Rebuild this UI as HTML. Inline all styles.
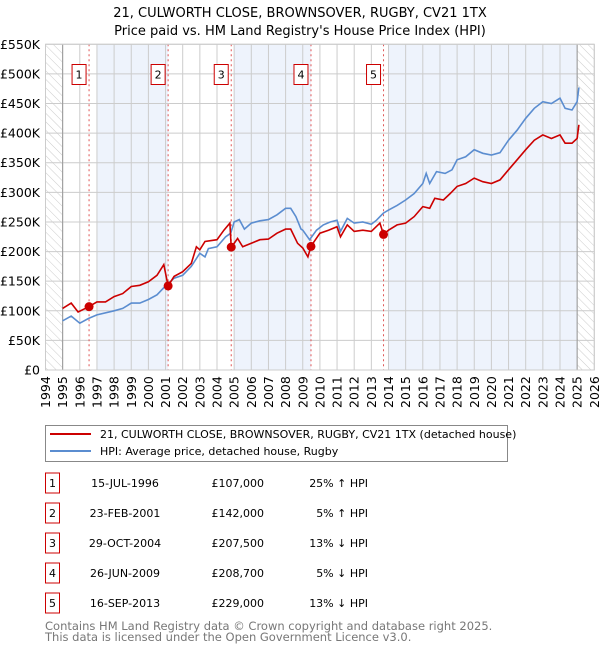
<!DOCTYPE html>
<html><head><meta charset="utf-8"><style>
body{margin:0;background:#fff;font-family:"DejaVu Sans","Liberation Sans",sans-serif;}
svg text{font-family:"DejaVu Sans","Liberation Sans",sans-serif;}
</style></head><body>
<svg id="c" width="600" height="650" viewBox="0 0 600 650" xmlns="http://www.w3.org/2000/svg">
<defs><pattern id="hatch" width="6" height="6" patternUnits="userSpaceOnUse" patternTransform="rotate(-45)"><line x1="0" y1="0" x2="0" y2="6" stroke="#ccc" stroke-width="1"/></pattern></defs>
<text x="300" y="17" text-anchor="middle" font-size="13">21, CULWORTH CLOSE, BROWNSOVER, RUGBY, CV21 1TX</text>
<text x="300" y="35" text-anchor="middle" font-size="13">Price paid vs. HM Land Registry's House Price Index (HPI)</text>
<g id="plot"></g>
<g>
<rect x="45.5" y="425.5" width="462" height="36" fill="#fff" stroke="#888"/>
<line x1="50" y1="434" x2="91" y2="434" stroke="#cc0000" stroke-width="2"/>
<text x="100" y="438" font-size="11">21, CULWORTH CLOSE, BROWNSOVER, RUGBY, CV21 1TX (detached house)</text>
<line x1="50" y1="451" x2="91" y2="451" stroke="#5b8dd0" stroke-width="2"/>
<text x="100" y="455" font-size="11">HPI: Average price, detached house, Rugby</text>
</g>
<g id="table"></g>
<text x="45" y="630" font-size="11.5" fill="#777">Contains HM Land Registry data © Crown copyright and database right 2025.</text>
<text x="45" y="641" font-size="11.5" fill="#777">This data is licensed under the Open Government Licence v3.0.</text>
</svg>
<script>
const hpiYears=[1995,1995.5,1996,1996.5,1997,1998,1998.5,1999,1999.5,2000,2000.5,2001,2001.5,2002,2002.5,2003,2003.3,2003.5,2004,2004.5,2004.8,2005,2005.3,2005.6,2006,2006.5,2007,2007.5,2008,2008.3,2008.6,2008.9,2009,2009.4,2009.8,2010.2,2010.6,2011,2011.2,2011.6,2012,2012.5,2013,2013.3,2013.7,2014,2014.5,2015,2015.5,2016,2016.2,2016.4,2016.8,2017.3,2017.7,2018,2018.5,2019,2019.5,2020,2020.5,2021,2021.5,2022,2022.5,2023,2023.5,2024,2024.3,2024.7,2025,2025.1];
const hpiValues=[83,91,79,87,93,100,104,113,113,119,127,142,155,160,175,197,191,205,208,225,231,250,254,238,248,252,254,262,273,273,259,238,236,220,236,245,250,253,234,256,248,250,246,253,265,270,278,287,298,315,332,315,335,332,338,355,360,372,366,363,367,388,405,425,442,453,450,459,442,439,453,477];
const priceYears=[1995,1995.5,1995.9,1996.54,1997,1997.5,1998,1998.5,1999,1999.5,2000,2000.5,2000.9,2001.15,2001.5,2002,2002.5,2002.8,2003,2003.3,2004,2004.4,2004.75,2004.83,2005.2,2005.5,2006,2006.5,2007,2007.5,2008,2008.3,2008.7,2009,2009.3,2009.48,2010,2010.5,2011,2011.2,2011.6,2012,2012.5,2013,2013.5,2013.71,2014,2014.5,2015,2015.5,2016,2016.4,2016.7,2017.2,2017.6,2018,2018.5,2019,2019.5,2020,2020.5,2021,2021.5,2022,2022.5,2023,2023.5,2024,2024.3,2024.7,2025,2025.1];
const priceValues=[104,113,98,107,115,115,124,129,141,143,149,160,178,142,158,166,180,208,203,217,220,236,248,207,222,208,214,220,221,231,238,238,214,206,191,209,231,236,242,225,245,234,236,234,248,229,236,245,248,259,276,273,290,287,298,310,315,324,318,315,321,338,355,372,388,397,391,397,383,383,391,414];
const saleYears=[1996.54,2001.15,2004.83,2009.48,2013.71];
const salePrices=[107,142,207.5,208.7,229];
const saleLabels=["1","2","3","4","5"];
const saleDates=["15-JUL-1996","23-FEB-2001","29-OCT-2004","26-JUN-2009","16-SEP-2013"];
const salePriceText=["£107,000","£142,000","£207,500","£208,700","£229,000"];
const salePctText=["25% \u2191 HPI","5% \u2191 HPI","13% \u2193 HPI","5% \u2193 HPI","13% \u2193 HPI"];
const yTicks=[0,50,100,150,200,250,300,350,400,450,500,550];
const yTickLabels=["£0","£50K","£100K","£150K","£200K","£250K","£300K","£350K","£400K","£450K","£500K","£550K"];
const shadeBands=[[1997,2001.15],[2005,2009.48],[2014,2025]];

const NS="http://www.w3.org/2000/svg";
const X0=45.5,X1=594.3,Y0=370,Y1=44.3,YMIN=1994,YMAX=2026,VMAX=550;
const xs=y=>X0+(y-YMIN)/(YMAX-YMIN)*(X1-X0);
const ys=v=>Y0-v/VMAX*(Y0-Y1);
const plot=document.getElementById('plot');
function mk(tag,attrs,parent){const e=document.createElementNS(NS,tag);for(const k in attrs)e.setAttribute(k,attrs[k]);(parent||plot).appendChild(e);return e;}

mk('rect',{x:X0,y:Y1,width:X1-X0,height:Y0-Y1,fill:'#fff'});
shadeBands.forEach(b=>{const r=mk('rect',{x:xs(b[0]),y:Y1,width:xs(b[1])-xs(b[0]),height:Y0-Y1,fill:'#eef3fc'});

});
const h1=mk('rect',{x:X0,y:Y1,width:xs(1995)-X0,height:Y0-Y1,fill:'url(#hatch)'});


const h2=mk('rect',{x:xs(2025),y:Y1,width:X1-xs(2025),height:Y0-Y1,fill:'url(#hatch)'});


for(let y=YMIN;y<=YMAX;y++){mk('line',{x1:xs(y),y1:Y1,x2:xs(y),y2:Y0,stroke:'#ccc','stroke-width':1});
const t=mk('text',{x:0,y:0,transform:`translate(${xs(y)+4.5},${Y0+38}) rotate(-90)`,'font-size':12.5});t.textContent=y;

}
yTicks.forEach((v,i)=>{mk('line',{x1:X0,y1:ys(v),x2:X1,y2:ys(v),stroke:'#ccc','stroke-width':1});
const t=mk('text',{x:40,y:ys(v)+4.5,'text-anchor':'end','font-size':12.5});t.textContent=yTickLabels[i];

});
mk('line',{x1:xs(1995),y1:Y1,x2:xs(1995),y2:Y0,stroke:'#999','stroke-width':1});
mk('line',{x1:xs(2025),y1:Y1,x2:xs(2025),y2:Y0,stroke:'#999','stroke-width':1});
saleYears.forEach((y,i)=>{const l=mk('line',{x1:xs(y),y1:Y1,x2:xs(y),y2:Y0,stroke:'#e05555','stroke-width':1,'stroke-dasharray':'2,3'});


const bx=xs(y)-17;
const r=mk('rect',{x:bx,y:64.5,width:14,height:20,fill:'#fff',stroke:'#cc0000'});


const t=mk('text',{x:bx+7,y:78.5,'text-anchor':'middle','font-size':11});t.textContent=saleLabels[i];

});
const hp=mk('polyline',{points:hpiYears.map((y,i)=>xs(y).toFixed(1)+','+ys(hpiValues[i]).toFixed(1)).join(' '),fill:'none',stroke:'#5b8dd0','stroke-width':1.6});


const pp=mk('polyline',{points:priceYears.map((y,i)=>xs(y).toFixed(1)+','+ys(priceValues[i]).toFixed(1)).join(' '),fill:'none',stroke:'#cc0000','stroke-width':1.6});


saleYears.forEach((y,i)=>{const c=mk('circle',{cx:xs(y),cy:ys(salePrices[i]),r:4.5,fill:'#cc0000'});

});
mk('rect',{x:X0,y:Y1,width:X1-X0,height:Y0-Y1,fill:'none',stroke:'#ccc'});

const tb=document.getElementById('table');
saleLabels.forEach((s,i)=>{const cy=483+i*30;
const r=mk('rect',{x:45.5,y:cy-10,width:14,height:20,fill:'#fff',stroke:'#cc0000'},tb);


const n=mk('text',{x:52.5,y:cy+4,'text-anchor':'middle','font-size':11},tb);n.textContent=s;


const d=mk('text',{x:125,y:cy+4,'text-anchor':'middle','font-size':11},tb);d.textContent=saleDates[i];


const p=mk('text',{x:264,y:cy+4,'text-anchor':'end','font-size':11},tb);p.textContent=salePriceText[i];


const q=mk('text',{x:368,y:cy+4,'text-anchor':'end','font-size':11},tb);q.textContent=salePctText[i];

});
</script>
</body></html>
